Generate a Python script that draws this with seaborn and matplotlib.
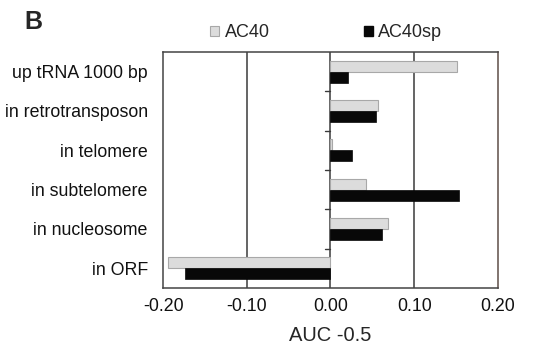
import matplotlib
matplotlib.use("Agg")
import matplotlib.pyplot as plt
import seaborn as sns
import pandas as pd
import numpy as np
from matplotlib.patches import Patch

categories = ["up tRNA 1000 bp", "in retrotransposon", "in telomere",
              "in subtelomere", "in nucleosome", "in ORF"]
ac40 = [0.151, 0.057, 0.002, 0.042, 0.069, -0.194]
ac40sp = [0.021, 0.055, 0.026, 0.154, 0.062, -0.174]
series = ["AC40", "AC40sp"]
xticks = [-0.20, -0.10, 0.00, 0.10, 0.20]
xticklabels = ["-0.20", "-0.10", "0.00", "0.10", "0.20"]

df = pd.DataFrame({
    "category": categories * 2,
    "value": ac40 + ac40sp,
    "series": [series[0]] * len(categories) + [series[1]] * len(categories),
})

sns.set_style("white")
plt.rcParams["font.family"] = ["Liberation Sans", "DejaVu Sans"]

fig = plt.figure(figsize=(5.33, 3.44), dpi=100)
ax = fig.add_axes([0.306, 0.163, 0.628, 0.686])

gray = "#dcdcdc"
black = "#080808"
sns.barplot(data=df, y="category", x="value", hue="series", order=categories,
            hue_order=series, palette=[gray, black], orient="h",
            width=0.56, gap=0, ax=ax, legend=False, saturation=1)

for p in ax.patches:
    fc = p.get_facecolor()
    if fc[0] > 0.5:
        p.set_edgecolor("#a8a8a8")
        p.set_linewidth(0.8)
    else:
        p.set_edgecolor(black)
        p.set_linewidth(0.5)

ax.set_xlim(-0.2, 0.2)
ax.set_ylim(len(categories) - 0.5, -0.5)
ax.set_xticks(xticks)
ax.set_xticklabels(xticklabels, fontsize=12.8)
ax.tick_params(axis="y", labelsize=12.8, length=0, pad=11)
ax.tick_params(axis="x", length=4, width=1, color="#444444", direction="inout", pad=5)
ax.set_xlabel("AUC -0.5", fontsize=14.5, labelpad=8)
ax.set_ylabel("")
for lbl in ax.get_xticklabels() + ax.get_yticklabels():
    lbl.set_color("#111111")

for xv in [-0.1, 0.0, 0.1]:
    ax.axvline(xv, color="#3a3a3a", lw=1.1, zorder=0.5)
for yb in np.arange(0.5, len(categories) - 0.5, 1.0):
    ax.plot([-0.006, 0.0], [yb, yb], color="#3a3a3a", lw=1, zorder=0.5)

for name, sp in ax.spines.items():
    sp.set_visible(True)
    sp.set_color("#444444")
    sp.set_linewidth(1.1)
ax.spines["right"].set_color("#5e4e48")

handles = [Patch(facecolor=gray, edgecolor="#a8a8a8", lw=0.8),
           Patch(facecolor=black, edgecolor=black)]
fig.legend(handles, series, loc="center", bbox_to_anchor=(0.612, 0.905),
           ncol=2, frameon=False, fontsize=13, handlelength=0.5,
           handleheight=0.5, handletextpad=0.3, columnspacing=5.2)

fig.text(0.045, 0.935, "B", fontsize=18, fontweight="bold", va="center", ha="left")

fig.savefig("out.png", dpi=100)
